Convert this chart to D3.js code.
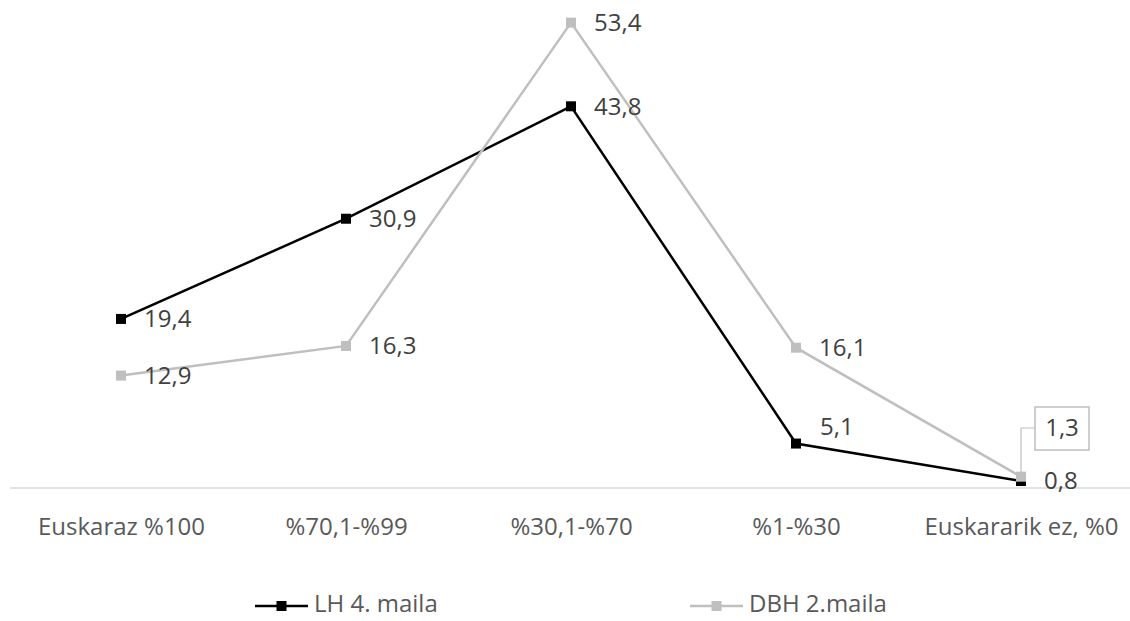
<!DOCTYPE html>
<html><head><meta charset="utf-8">
<script src="https://cdn.jsdelivr.net/npm/d3@7"></script>
<style>body{margin:0;background:#fff}svg{display:block}text{font-family:"Open Sans","Noto Sans","Liberation Sans",sans-serif}</style>
</head><body><svg id="c" width="1130" height="621"></svg>
<script>
const categories = ["Euskaraz %100", "%70,1-%99", "%30,1-%70", "%1-%30", "Euskararik ez, %0"];
const seriesNames = ["LH 4. maila", "DBH 2.maila"];
const lh4 = [19.4, 30.9, 43.8, 5.1, 0.8];
const dbh2 = [12.9, 16.3, 53.4, 16.1, 1.3];
const colors = ["#000000", "#bfbfbf"];
const FS = 24;

const svg = d3.select("#c");
const x = d3.scalePoint().domain(categories).range([121, 1021]);
const y = d3.scaleLinear().domain([0, 56]).range([488, 0]);

// axis
const xAxis = svg.append("g").attr("transform", "translate(0,488)")
  .call(d3.axisBottom(x).tickSize(0).tickPadding(0));
xAxis.select(".domain").remove();
xAxis.attr("font-family", null).attr("font-size", null);
svg.append("line").attr("x1", 10).attr("x2", 1130).attr("y1", 488).attr("y2", 488)
  .attr("stroke", "#d9d9d9").attr("stroke-width", 1.5);
xAxis.selectAll("text").attr("dy", null).attr("y", 41)
  .attr("font-size", FS).attr("fill", "#595959").attr("text-anchor", "middle")
  .attr("dominant-baseline", "middle");

const line = d3.line().x((d, i) => x(categories[i])).y(d => y(d));
const data = [lh4, dbh2];
data.forEach((vals, s) => {
  svg.append("path").datum(vals).attr("d", line).attr("fill", "none")
    .attr("stroke", colors[s]).attr("stroke-width", 2.5);
  svg.selectAll(null).data(vals).enter().append("rect")
    .attr("x", (d, i) => x(categories[i]) - 5).attr("y", d => y(d) - 5)
    .attr("width", 10).attr("height", 10).attr("fill", colors[s]);
});

// labels
data.forEach((vals, s) => {
  vals.forEach((v, i) => {
    const t = String(v).replace(".", ",");
    const px = x(categories[i]), py = y(v);
    if (s === 1 && i === 4) {
      const bx = 1035, by = 407, bw = 54, bh = 43;
      svg.append("polyline").attr("points", `${px},${py - 3} ${px},${by + 21} ${bx},${by + 21}`)
        .attr("fill", "none").attr("stroke", "#bfbfbf").attr("stroke-width", 1.2);
      svg.append("rect").attr("x", bx).attr("y", by).attr("width", bw).attr("height", bh)
        .attr("fill", "#fff").attr("stroke", "#bfbfbf").attr("stroke-width", 1.5);
      svg.append("text").attr("x", bx + bw / 2).attr("y", by + bh / 2 + 1).attr("text-anchor", "middle")
        .attr("dominant-baseline", "middle").attr("font-size", FS).attr("fill", "#404040").text(t);
    } else {
      let dx = 23, dy = 2;
      if (s === 0 && i === 3) { dx = 24; dy = -15; }
      svg.append("text").attr("x", px + dx).attr("y", py + dy)
        .attr("dominant-baseline", "middle").attr("font-size", FS).attr("fill", "#404040").text(t);
    }
  });
});

// legend
const legX = [255, 690];
seriesNames.forEach((n, s) => {
  const g = svg.append("g").attr("transform", `translate(${legX[s]},606)`);
  g.append("line").attr("x1", 0).attr("x2", 53).attr("stroke", colors[s]).attr("stroke-width", 2.5);
  g.append("rect").attr("x", 21.5).attr("y", -5).attr("width", 10).attr("height", 10).attr("fill", colors[s]);
  g.append("text").attr("x", 59).attr("y", 0).attr("dominant-baseline", "middle")
    .attr("font-size", FS).attr("fill", "#595959").text(n);
});
</script></body></html>
